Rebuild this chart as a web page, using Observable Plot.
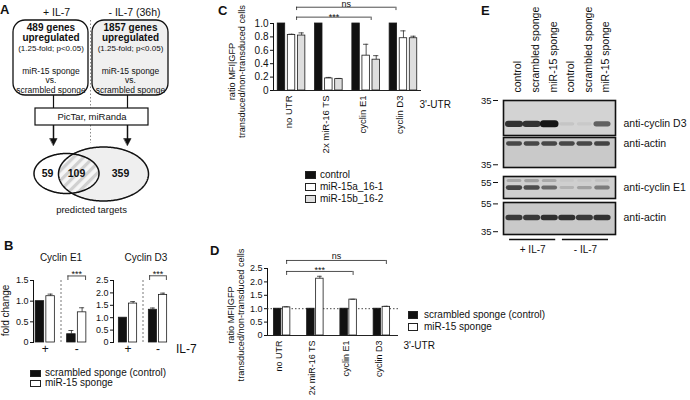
<!DOCTYPE html>
<html>
<head>
<meta charset="utf-8">
<script src="https://cdn.jsdelivr.net/npm/d3@7"></script>
<script src="https://cdn.jsdelivr.net/npm/@observablehq/plot@0.6"></script>
<style>
  html, body { margin: 0; padding: 0; background: #fff; }
  #fig { position: relative; width: 690px; height: 400px; overflow: hidden; background: #fff;
         font-family: "Liberation Sans", Arial, Helvetica, sans-serif; color: #111; }
  #fig svg { position: absolute; left: 0; top: 0; }
  .tx { position: absolute; white-space: nowrap; line-height: 1; }
  g[aria-label="band"] { filter: blur(0.8px); }
</style>
</head>
<body>
<div id="fig"></div>
<script>
// ===================== DATA =====================
// Panel A
const conditionsA = ["+ IL-7", "- IL-7 (36h)"];
const upregulatedGenes = [489, 1857];
const criteriaA = "(1.25-fold; p<0.05)";
const comparisonA = ["miR-15 sponge", "vs.", "scrambled sponge"];
const predictionTools = "PicTar, miRanda";
const vennCounts = [59, 109, 359];
const vennTitle = "predicted targets";

// Panel B
const il7Groups = ["+", "-"];
const bSeries = ["scrambled sponge (control)", "miR-15 sponge"];
const bTitles = ["Cyclin E1", "Cyclin D3"];
const e1Control = [1.0, 0.20], e1ControlErr = [0, 0.09];
const e1Sponge = [1.12, 0.73], e1SpongeErr = [0.05, 0.11];
const d3Control = [1.0, 1.32], d3ControlErr = [0, 0.07];
const d3Sponge = [1.57, 1.92], d3SpongeErr = [0.08, 0.07];
const bTicksE1 = [0, 0.5, 1, 1.5];
const bTicksD3 = [0, 0.5, 1, 1.5, 2, 2.5];
const bYLabel = "fold change";
const bXLabel = "IL-7";

// Panel C
const utrs = ["no UTR", "2x miR-16 TS", "cyclin E1", "cyclin D3"];
const cSeries = ["control", "miR-15a_16-1", "miR-15b_16-2"];
const cControl = [1, 1, 1, 1], cControlErr = [0, 0, 0, 0];
const cMir15a = [0.83, 0.18, 0.52, 0.78], cMir15aErr = [0.01, 0.015, 0.17, 0.11];
const cMir15b = [0.82, 0.17, 0.46, 0.78], cMir15bErr = [0.04, 0.01, 0.06, 0.03];
const cTicks = [0, 0.2, 0.4, 0.6, 0.8, 1];
const cComparisons = [{from: "no UTR", to: "cyclin E1", label: "***"}, {from: "no UTR", to: "cyclin D3", label: "ns"}];

// Panel D
const dSeries = ["scrambled sponge (control)", "miR-15 sponge"];
const dControl = [1, 1, 1, 1], dControlErr = [0, 0, 0, 0];
const dSponge = [1.05, 2.12, 1.34, 1.07], dSpongeErr = [0.02, 0.09, 0.01, 0.02];
const dTicks = [0, 0.5, 1, 1.5, 2, 2.5];
const dComparisons = [{from: "no UTR", to: "cyclin E1", label: "***"}, {from: "no UTR", to: "cyclin D3", label: "ns"}];
const yLabelCD = "ratio MFI|GFP\ntransduced/non-transduced cells";
const utrAxisLabel = "3'-UTR";

// Panel E
const lanes = ["control", "scrambled sponge", "miR-15 sponge", "control", "scrambled sponge", "miR-15 sponge"];
const treatments = ["+ IL-7", "- IL-7"];
const antibodies = ["anti-cyclin D3", "anti-actin", "anti-cyclin E1", "anti-actin"];
const markerKDa = [[35], [35], [55], [55, 35]];
const bandKDa = [[31], [42.8], [56, 52.5], [45.2]];
const bandsCyclinD3 = [0.85, 0.85, 1.0, 0.07, 0.05, 0.6];
const bandsActinTop = [0.72, 0.72, 0.72, 0.72, 0.72, 0.75];
const bandsCyclinE1Upper = [0.22, 0.25, 0.2, 0.04, 0.04, 0.08];
const bandsCyclinE1 = [0.75, 0.7, 0.55, 0.15, 0.25, 0.45];
const bandsActinBottom = [0.8, 0.8, 0.85, 0.85, 0.8, 0.85];

// ===================== HELPERS =====================
const FONT = '"Liberation Sans", Arial, Helvetica, sans-serif';
const W = 690, H = 400;
const fig = document.getElementById("fig");
const fmt1 = d => d === 0 ? "0" : d3.format(".1f")(d);

function base(opts) {
  const {fontSize = 9.5, ...rest} = opts;
  const svg = Plot.plot({
    width: W, height: H,
    style: {fontFamily: FONT, fontSize: fontSize + "px", background: "transparent", color: "#111", overflow: "visible"},
    ...rest
  });
  fig.appendChild(svg);
  return svg;
}

function rowsFrom(groups, vals, errs) {
  return vals.flatMap((v, si) => groups.map((g, gi) => ({group: g, gi, si, value: v[gi], err: errs[si][gi]})));
}

function barMarks(rows, fills, offsets, barW, capW) {
  const marks = [];
  fills.forEach((fill, si) => {
    const r = rows.filter(d => d.si === si);
    const cx = d => d.gi + offsets[si];
    marks.push(Plot.rect(r, {x1: d => cx(d) - barW / 2, x2: d => cx(d) + barW / 2, y1: 0, y2: "value",
      fill, stroke: "#1b1b1b", strokeWidth: 0.8}));
    const e = r.filter(d => d.err > 0);
    marks.push(Plot.ruleX(e, {x: cx, y1: "value", y2: d => d.value + d.err, stroke: "#2a2a2a", strokeWidth: 0.8}));
    marks.push(Plot.ruleY(e, {y: d => d.value + d.err, x1: d => cx(d) - capW, x2: d => cx(d) + capW, stroke: "#2a2a2a", strokeWidth: 0.8}));
  });
  return marks;
}

function bracketMarks(list, tick, fontSize) {
  const ends = list.flatMap(b => [{x: b.x1, y: b.y}, {x: b.x2, y: b.y}]);
  return [
    Plot.ruleY(list, {y: "y", x1: "x1", x2: "x2", stroke: "#222", strokeWidth: 0.8}),
    Plot.ruleX(ends, {x: "x", y1: "y", y2: d => d.y - tick, stroke: "#222", strokeWidth: 0.8}),
    ...list.map(b => Plot.text([b], {x: d => (d.x1 + d.x2) / 2, y: "y", text: "label", dy: b.dy, fontSize}))
  ];
}

function htmlText(text, left, top, fontSize, weight = "normal") {
  const t = document.createElement("div");
  t.className = "tx";
  t.textContent = text;
  t.style.left = left + "px";
  t.style.top = top + "px";
  t.style.fontSize = fontSize + "px";
  t.style.fontWeight = weight;
  fig.appendChild(t);
}

function legend(items, {x, y, step, w, h, textX, fontSize}) {
  items.forEach(([label, fill], i) => {
    const top = y + i * step;
    const sq = document.createElement("div");
    sq.style.cssText = `position:absolute;left:${x}px;top:${top}px;width:${w}px;height:${h}px;background:${fill};border:1px solid #222;box-sizing:border-box;`;
    fig.appendChild(sq);
    htmlText(label, textX, top + h / 2 - fontSize * 0.5, fontSize);
  });
}

function ellipse(e, n = 240) {
  return d3.range(n).map(k => {
    const t = (k / n) * 2 * Math.PI;
    return {x: e.cx + e.rx * Math.cos(t), y: e.cy + e.ry * Math.sin(t)};
  });
}
const insideE = (p, e) => ((p.x - e.cx) / e.rx) ** 2 + ((p.y - e.cy) / e.ry) ** 2 <= 1;

// ===================== PANEL A =====================
{
  const boxL = [13, 92], boxR = [88, 168], boxCX = [50.5, 130], headX = [56, 134];
  const stemX = [53, 127];
  const eL = {cx: 66, cy: 173, rx: 32.5, ry: 20};
  const eR = {cx: 103, cy: 173.5, rx: 45, ry: 27};
  const ptsL = ellipse(eL), ptsR = ellipse(eR);
  let inter = [...ptsL.filter(p => insideE(p, eR)), ...ptsR.filter(p => insideE(p, eL))];
  const mx = d3.mean(inter, p => p.x), my = d3.mean(inter, p => p.y);
  inter = inter.sort((a, b) => Math.atan2(a.y - my, a.x - mx) - Math.atan2(b.y - my, b.x - mx));
  const heads = stemX.flatMap((x, id) => [{id, x: x - 3.6, y: 138}, {id, x: x + 3.6, y: 138}, {id, x, y: 145}]);
  const vennX = [47, 76, 120];
  const boxes = conditionsA.map((c, i) => ({c, i}));

  const svg = base({
    margin: 0,
    x: {domain: [0, W], range: [0, W], axis: null},
    y: {domain: [0, H], range: [0, H], axis: null},
    marks: [
      Plot.ruleX([90], {y1: 20, y2: 143, stroke: "#8a8a8a", strokeDasharray: "1.5,2"}),
      Plot.rect([boxes[0]], {x1: d => boxL[d.i], x2: d => boxR[d.i], y1: 20, y2: 95, rx: 12, fill: "white", stroke: "#111", strokeWidth: 1.3}),
      Plot.rect([boxes[1]], {x1: d => boxL[d.i], x2: d => boxR[d.i], y1: 20, y2: 95, rx: 12, fill: "#f0f0f0", stroke: "#111", strokeWidth: 1.3}),
      Plot.text(conditionsA, {x: (d, i) => headX[i], y: 12, fontSize: 10.5}),
      Plot.text(upregulatedGenes, {x: (d, i) => boxCX[i], y: 32, text: d => `${d} genes\nupregulated`, fontWeight: "bold", fontSize: 10, lineHeight: 1.0}),
      Plot.text(upregulatedGenes, {x: (d, i) => boxCX[i], y: 48, text: () => criteriaA, fontSize: 8}),
      Plot.text(upregulatedGenes, {x: (d, i) => boxCX[i], y: 79.5, text: () => comparisonA.join("\n"), fontSize: 8.5, lineHeight: 1.12}),
      Plot.ruleX(stemX, {y1: 95, y2: 108, stroke: "#111", strokeWidth: 1.2}),
      Plot.rect([predictionTools], {x1: 35, x2: 148, y1: 108, y2: 125, fill: "white", stroke: "#111", strokeWidth: 1.2}),
      Plot.text([predictionTools], {x: 91.5, y: 116.8, fontSize: 9.5}),
      Plot.ruleX(stemX, {y1: 125, y2: 139, stroke: "#111", strokeWidth: 1.5}),
      Plot.line(heads, {x: "x", y: "y", z: "id", curve: "linear-closed", fill: "#111", stroke: "#111", strokeWidth: 0.5}),
      Plot.line(ptsR, {x: "x", y: "y", curve: "linear-closed", fill: "#efefef", stroke: "none"}),
      Plot.line(inter, {x: "x", y: "y", curve: "linear-closed", fill: "url(#hatchA)", stroke: "none"}),
      Plot.line(ptsL, {x: "x", y: "y", curve: "linear-closed", fill: "none", stroke: "#111", strokeWidth: 1.5}),
      Plot.line(ptsR, {x: "x", y: "y", curve: "linear-closed", fill: "none", stroke: "#111", strokeWidth: 1.5}),
      Plot.text(vennCounts, {x: (d, i) => vennX[i], y: 173, fontWeight: "bold", fontSize: 10.5}),
      Plot.text([vennTitle], {x: 91, y: 209, fontSize: 9.5})
    ]
  });
  const defs = d3.select(svg).insert("defs", ":first-child");
  const pat = defs.append("pattern").attr("id", "hatchA").attr("patternUnits", "userSpaceOnUse")
    .attr("width", 7).attr("height", 7).attr("patternTransform", "rotate(45)");
  pat.append("rect").attr("width", 7).attr("height", 7).attr("fill", "#f6f6f6");
  pat.append("rect").attr("width", 3.2).attr("height", 7).attr("fill", "#d0d0d0");
}

// ===================== PANEL B =====================
{
  const bOff = [-0.17, 0.17], bW = 0.27, bCap = 0.08;
  const configs = [
    {vals: [e1Control, e1Sponge], errs: [e1ControlErr, e1SpongeErr], ticks: bTicksE1, domain: [0, 1.5],
     left: 33, right: 92, range: [29, 92], title: bTitles[0], titleDx: 0, br: {y: 1.61, tick: 0.11}},
    {vals: [d3Control, d3Sponge], errs: [d3ControlErr, d3SpongeErr], ticks: bTicksD3, domain: [0, 2.5],
     left: 113, right: 172.5, range: [112.5, 172.5], title: bTitles[1], titleDx: 3, br: {y: 2.69, tick: 0.19}}
  ];
  configs.forEach((c, k) => {
    const rows = rowsFrom(il7Groups, c.vals, c.errs);
    const marks = [
      Plot.ruleX([0.5], {stroke: "#555", strokeDasharray: "2,2", strokeWidth: 0.8}),
      ...barMarks(rows, ["#111", "white"], bOff, bW, bCap),
      ...bracketMarks([{x1: 1 - 0.28, x2: 1 + 0.28, y: c.br.y, label: "***", dy: -2}], c.br.tick, 9),
      Plot.text(il7Groups, {x: (d, i) => i, frameAnchor: "bottom", dy: 10, fontSize: 12}),
      Plot.text([c.title], {x: 0.5, frameAnchor: "top", dy: -27, dx: c.titleDx, fontSize: 10})
    ];
    if (k === 0) marks.push(Plot.text([bYLabel], {frameAnchor: "left", dx: -28, dy: -1, rotate: -90, textAnchor: "middle", fontSize: 10}));
    if (k === 1) marks.push(Plot.text([bXLabel], {frameAnchor: "bottom-right", dx: 3, dy: 10, textAnchor: "start", fontSize: 12}));
    base({
      fontSize: 9,
      marginLeft: c.left, marginRight: W - c.right, marginTop: 280, marginBottom: H - 342,
      x: {domain: [-0.5, 1.5], range: c.range, axis: null},
      y: {domain: c.domain, ticks: c.ticks, tickFormat: fmt1, tickSize: 3, tickPadding: 2, line: true, label: null},
      marks
    });
  });
  legend([[bSeries[0], "#111"], [bSeries[1], "white"]], {x: 29.5, y: 369.7, step: 10, w: 11.5, h: 7.5, textX: 45, fontSize: 10});
}

// ===================== PANEL C =====================
{
  const rows = rowsFrom(utrs, [cControl, cMir15a, cMir15b], [cControlErr, cMir15aErr, cMir15bErr]);
  const idx = n => utrs.indexOf(n);
  const endOff = [[0.135, 0.135], [0.135, -0.2]], brY = [1.095, 1.243], brDy = [-0.5, -3.5];
  const brs = cComparisons.map((c, i) => ({x1: idx(c.from) + endOff[i][0], x2: idx(c.to) + endOff[i][1], y: brY[i], label: c.label, dy: brDy[i]}));
  base({
    fontSize: 10,
    marginLeft: 273, marginRight: W - 421, marginTop: 23, marginBottom: H - 90,
    x: {domain: [-0.5, 3.5], range: [272.4, 421.6], axis: null},
    y: {domain: [0, 1], ticks: cTicks, tickFormat: fmt1, tickSize: 3, tickPadding: 2, line: true, label: null},
    marks: [
      Plot.ruleY([0], {stroke: "#222", strokeWidth: 1}),
      ...barMarks(rows, ["#111", "white", "#dedede"], [-0.27, 0, 0.27], 0.2, 0.07),
      ...bracketMarks(brs, 0.05, 9),
      Plot.text(utrs, {x: (d, i) => i, frameAnchor: "bottom", dy: 5, rotate: -90, textAnchor: "end", fontSize: 9.5}),
      Plot.text([utrAxisLabel], {frameAnchor: "bottom-right", dx: -2, dy: 17, textAnchor: "start", fontSize: 10}),
      Plot.text([yLabelCD], {frameAnchor: "left", dx: -37, dy: 14.5, rotate: -90, textAnchor: "middle", lineHeight: 1.08, fontSize: 9.2})
    ]
  });
  legend(cSeries.map((s, i) => [s, ["#111", "white", "#dedede"][i]]), {x: 305, y: 170.5, step: 12.3, w: 11, h: 8, textX: 320, fontSize: 10});
}

// ===================== PANEL D =====================
{
  const rows = rowsFrom(utrs, [dControl, dSponge], [dControlErr, dSpongeErr]);
  const idx = n => utrs.indexOf(n);
  const brY = [2.39, 2.80], brDy = [-1.5, -4.5];
  const brs = dComparisons.map((c, i) => ({x1: idx(c.from) + 0.135, x2: idx(c.to) + 0.135, y: brY[i], label: c.label, dy: brDy[i]}));
  base({
    fontSize: 9,
    marginLeft: 267, marginRight: W - 398, marginTop: 268, marginBottom: H - 335,
    x: {domain: [-0.5, 3.5], range: [265, 398], axis: null},
    y: {domain: [0, 2.5], ticks: dTicks, tickFormat: fmt1, tickSize: 3, tickPadding: 2, line: true, label: null},
    marks: [
      Plot.ruleY([1], {stroke: "#333", strokeDasharray: "1.5,2", strokeWidth: 0.9}),
      Plot.ruleY([0], {stroke: "#222", strokeWidth: 1}),
      ...barMarks(rows, ["#111", "white"], [-0.135, 0.135], 0.225, 0.07),
      ...bracketMarks(brs, 0.15, 9),
      Plot.text(utrs, {x: (d, i) => i, frameAnchor: "bottom", dy: 5, rotate: -90, textAnchor: "end", fontSize: 9}),
      Plot.text([utrAxisLabel], {frameAnchor: "bottom-right", dx: 5, dy: 13, textAnchor: "start", fontSize: 10}),
      Plot.text([yLabelCD], {frameAnchor: "left", dx: -32, dy: 13, rotate: -90, textAnchor: "middle", lineHeight: 1.15, fontSize: 9.2})
    ]
  });
  legend(dSeries.map((s, i) => [s, ["#111", "white"][i]]), {x: 408, y: 311, step: 12, w: 9.5, h: 7.5, textX: 424, fontSize: 10});
}

// ===================== PANEL E =====================
{
  const blots = [
    {top: 100, bottom: 135, domain: [29, 35], bg: "#d3d3d3", bands: [bandsCyclinD3], base: 3, gain: 4},
    {top: 137, bottom: 167, domain: [34, 45], bg: "#c9c9c9", bands: [bandsActinTop], base: 2.5, gain: 2.5},
    {top: 176, bottom: 198, domain: [47, 58], bg: "#cfcfcf", bands: [bandsCyclinE1Upper, bandsCyclinE1], base: 2.5, gain: 3},
    {top: 202, bottom: 234, domain: [33, 56], bg: "#c9c9c9", bands: [bandsActinBottom], base: 3, gain: 3}
  ];
  const xScale = {domain: [0.5, 6.5], range: [504.7, 610.3], axis: null};
  blots.forEach((b, k) => {
    const bandRows = b.bands.flatMap((vals, r) => vals.map((v, li) => ({lane: li + 1, kDa: bandKDa[k][r], v})));
    const marks = [
      Plot.frame({fill: b.bg, stroke: "none", insetLeft: 5}),
      Plot.link(bandRows, {x1: d => d.lane - 0.33, x2: d => d.lane + 0.33, y1: "kDa", y2: "kDa",
        stroke: "#151515", strokeOpacity: "v", strokeWidth: d => b.base + b.gain * d.v, strokeLinecap: "round", ariaLabel: "band"}),
      Plot.frame({fill: "none", stroke: "#111", strokeWidth: 1.6, insetLeft: 5}),
      Plot.text([antibodies[k]], {y: bandKDa[k][bandKDa[k].length - 1], frameAnchor: "right", dx: 8, textAnchor: "start", fontSize: 10.5})
    ];
    if (k === 0) marks.push(Plot.text(lanes, {x: (d, i) => i + 1, frameAnchor: "top", dy: -8, rotate: -90, textAnchor: "start", fontSize: 10.5}));
    base({
      fontSize: 9.5,
      marginLeft: 498, marginRight: W - 615, marginTop: b.top, marginBottom: H - b.bottom,
      x: xScale,
      y: {domain: b.domain, ticks: markerKDa[k], tickFormat: d => String(d), tickSize: 5, tickPadding: 2, label: null},
      opacity: {type: "identity"},
      marks
    });
  });
  const treat = treatments.map((name, i) => ({name, first: i * 3 + 1, last: i * 3 + 3}));
  base({
    fontSize: 10,
    marginLeft: 498, marginRight: W - 615, marginTop: 239, marginBottom: H - 249,
    x: xScale,
    y: {domain: [0, 1], axis: null},
    marks: [
      Plot.ruleY(treat, {y: 1, x1: d => d.first - 0.25, x2: d => d.last + 0.37, stroke: "#111", strokeWidth: 1.5}),
      Plot.text(treat, {x: d => (d.first - 0.25 + d.last + 0.37) / 2, y: 0, text: "name", fontSize: 10})
    ]
  });
}

// ===================== PANEL LETTERS =====================
[["A", 0, 3.4], ["B", 4, 238.5], ["C", 218, 3.5], ["D", 210, 243.5], ["E", 481, 3.5]]
  .forEach(([t, x, y]) => htmlText(t, x, y, 13, "bold"));
</script>
</body>
</html>
